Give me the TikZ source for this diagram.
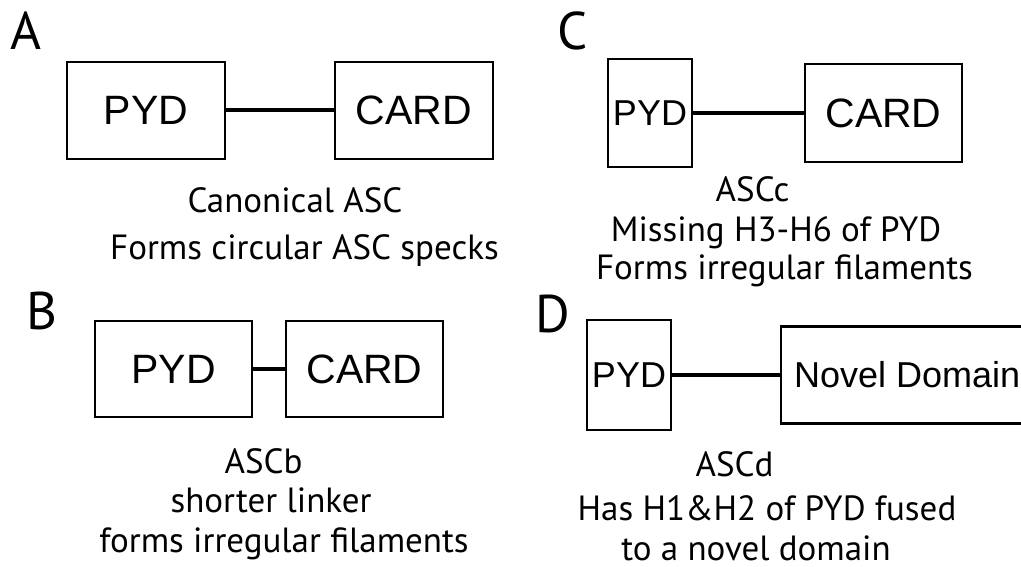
\documentclass[tikz,border=0pt]{standalone}
\usepackage{fontspec}
\setmainfont{Liberation Sans}
\newfontfamily\notefont{PT Sans}
\usetikzlibrary{positioning}

\begin{document}
\begin{tikzpicture}[
    x=1pt, y=-1pt,
    dom/.style={draw, line width=2.3pt, inner sep=0pt, font=\fontsize{41}{49}\selectfont},
    smalldom/.style={dom, font=\fontsize{36}{43}\selectfont},
    link/.style={line width=4pt},
    panel/.style={anchor=base west, inner sep=0pt, font=\notefont\fontsize{53}{60}\selectfont},
    note/.style={anchor=base, inner sep=0pt, font=\notefont\fontsize{35}{42}\selectfont},
]
    \useasboundingbox (0,0) rectangle (1021,567);
    \clip (0,0) rectangle (1021,567);

    % Panel A: canonical ASC
    \node[panel] (lA) at (10,50) {A};
    \node[dom, minimum width=158pt, minimum height=97pt] (pydA) at (146,110.5) {PYD};
    \node[dom, minimum width=158pt, minimum height=97pt] (cardA) at (414,110.5) {CARD};
    \draw[link] (pydA) -- (cardA);
    \node[note] (nA1) at (295,212) {Canonical ASC};
    \node[note] (nA2) at (304.5,259) {Forms circular ASC specks};

    % Panel B: ASCb
    \node[panel] (lB) at (26,329) {B};
    \node[dom, minimum width=157pt, minimum height=96pt] (pydB) at (173.5,369) {PYD};
    \node[dom, minimum width=157pt, minimum height=96pt] (cardB) at (364.5,369) {CARD};
    \draw[link] (pydB) -- (cardB);
    \node[note] (nB1) at (263.5,473) {ASCb};
    \node[note] (nB2) at (271,512) {shorter linker};
    \node[note] (nB3) at (284,552) {forms irregular filaments};

    % Panel C: ASCc
    \node[panel] (lC) at (557,50) {C};
    \node[smalldom, minimum width=84pt, minimum height=108pt] (pydC) at (650,113) {PYD};
    \node[dom, minimum width=157pt, minimum height=98pt] (cardC) at (883.5,113) {CARD};
    \draw[link] (pydC) -- (cardC);
    \node[note] (nC1) at (752.5,202) {ASCc};
    \node[note] (nC2) at (776,241) {Missing H3-H6 of PYD};
    \node[note] (nC3) at (784.5,279) {Forms irregular filaments};

    % Panel D: ASCd
    \node[panel] (lD) at (535,332) {D};
    \node[smalldom, minimum width=84pt, minimum height=110pt] (pydD) at (629,375) {PYD};
    \node[smalldom, anchor=west, inner xsep=13pt, minimum height=97pt] (novD) at (780,375) {Novel Domain};
    \draw[link] (pydD) -- (novD);
    \node[note] (nD1) at (734.5,476) {ASCd};
    \node[note] (nD2) at (767,520) {Has H1\&H2 of PYD fused};
    \node[note] (nD3) at (756,560) {to a novel domain};
\end{tikzpicture}
\end{document}
